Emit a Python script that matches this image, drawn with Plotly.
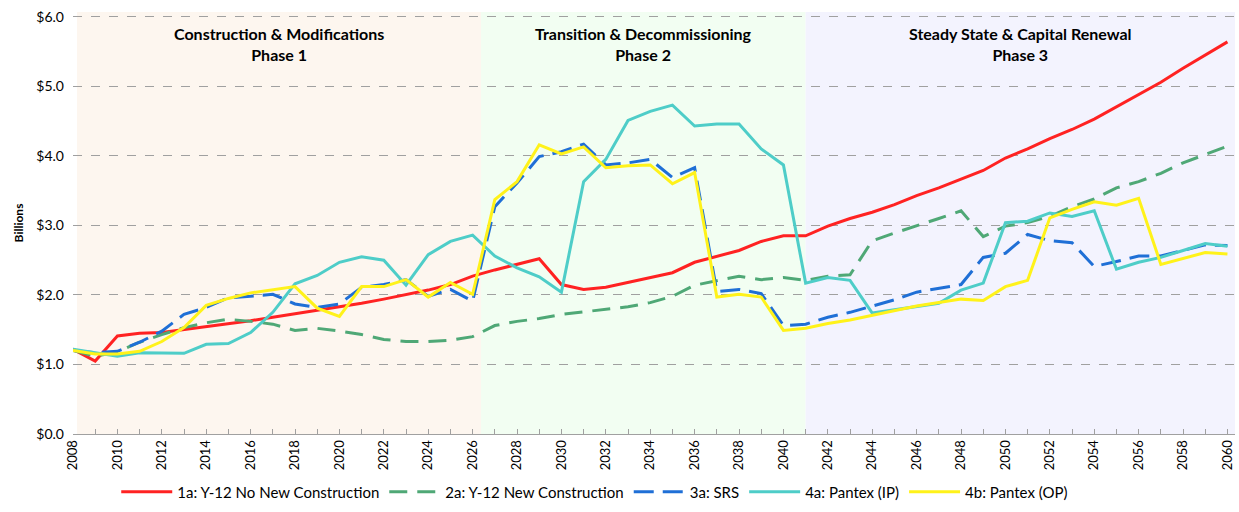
import plotly.graph_objects as go

years = list(range(2008, 2061))

y12_no_new = [1.22, 1.05, 1.41, 1.45, 1.46, 1.50, 1.55, 1.59, 1.63, 1.68, 1.73, 1.78, 1.82, 1.88, 1.94, 2.00,
              2.07, 2.15, 2.27, 2.36, 2.44, 2.52, 2.15, 2.08, 2.11, 2.18, 2.25, 2.32, 2.47, 2.56, 2.64, 2.77,
              2.85, 2.85, 2.99, 3.10, 3.19, 3.30, 3.43, 3.54, 3.66, 3.79, 3.97, 4.10, 4.25, 4.38, 4.53, 4.71,
              4.89, 5.06, 5.26, 5.45, 5.64]
y12_new = [1.20, 1.12, 1.18, 1.32, 1.43, 1.53, 1.60, 1.65, 1.62, 1.58, 1.49, 1.52, 1.48, 1.43, 1.36, 1.33,
           1.33, 1.35, 1.40, 1.56, 1.62, 1.66, 1.72, 1.76, 1.80, 1.83, 1.89, 1.98, 2.14, 2.20, 2.27, 2.22,
           2.25, 2.21, 2.27, 2.29, 2.78, 2.89, 2.99, 3.10, 3.21, 2.84, 2.99, 3.04, 3.13, 3.27, 3.38, 3.54,
           3.63, 3.75, 3.90, 4.02, 4.14]
srs = [1.20, 1.17, 1.19, 1.32, 1.48, 1.72, 1.82, 1.96, 1.98, 2.01, 1.87, 1.82, 1.87, 2.11, 2.15, 2.22,
       1.98, 2.08, 1.91, 3.27, 3.61, 3.99, 4.06, 4.17, 3.87, 3.90, 3.95, 3.69, 3.83, 2.05, 2.08, 2.02,
       1.56, 1.58, 1.68, 1.75, 1.84, 1.93, 2.04, 2.09, 2.15, 2.54, 2.60, 2.87, 2.78, 2.75, 2.41, 2.48,
       2.56, 2.56, 2.64, 2.72, 2.71]
pantex_ip = [1.22, 1.17, 1.12, 1.17, 1.16, 1.16, 1.29, 1.30, 1.46, 1.75, 2.16, 2.28, 2.47, 2.55, 2.50, 2.14,
             2.58, 2.77, 2.86, 2.56, 2.39, 2.26, 2.04, 3.63, 3.95, 4.51, 4.64, 4.73, 4.43, 4.46, 4.46, 4.10,
             3.87, 2.17, 2.25, 2.21, 1.74, 1.79, 1.84, 1.88, 2.07, 2.17, 3.04, 3.06, 3.18, 3.13, 3.21, 2.37,
             2.47, 2.54, 2.64, 2.74, 2.70]
pantex_op = [1.20, 1.15, 1.15, 1.19, 1.33, 1.53, 1.85, 1.95, 2.03, 2.08, 2.12, 1.81, 1.69, 2.12, 2.12, 2.22,
             1.97, 2.18, 2.01, 3.37, 3.63, 4.16, 4.03, 4.13, 3.83, 3.86, 3.87, 3.60, 3.76, 1.97, 2.01, 1.97,
             1.49, 1.52, 1.59, 1.64, 1.71, 1.78, 1.84, 1.89, 1.94, 1.92, 2.12, 2.21, 3.11, 3.23, 3.34, 3.29,
             3.39, 2.44, 2.52, 2.61, 2.59]

series_names = ["1a: Y-12 No New Construction", "2a: Y-12 New Construction", "3a: SRS",
                "4a: Pantex (IP)", "4b: Pantex (OP)"]
series_values = [y12_no_new, y12_new, srs, pantex_ip, pantex_op]
series_colors = ["#FF2222", "#4FA876", "#1F6FD6", "#4ECDC8", "#FFF21A"]
series_dash = ["solid", "18px,10px", "20px,9px", "solid", "solid"]

phase_titles = ["Construction & Modifications<br>Phase 1",
                "Transition & Decommissioning<br>Phase 2",
                "Steady State & Capital Renewal<br>Phase 3"]
phase_bounds = [(2008.18, 2026.38), (2026.38, 2041.0), (2041.0, 2060.34)]
phase_colors = ["rgb(253,246,239)", "rgb(242,254,242)", "rgb(243,243,254)"]

FONT = "Lato, 'Open Sans', sans-serif"

fig = go.Figure()
for name, vals, col, dash in zip(series_names, series_values, series_colors, series_dash):
    fig.add_trace(go.Scatter(x=years, y=vals, mode="lines", name=name,
                             line=dict(color=col, width=3, dash=dash)))

shapes = []
annotations = []
for (x0, x1), col, title in zip(phase_bounds, phase_colors, phase_titles):
    shapes.append(dict(type="rect", xref="x", yref="paper", x0=x0, x1=x1, y0=0, y1=1,
                       fillcolor=col, line=dict(width=0), layer="below"))
    annotations.append(dict(x=(x0 + x1) / 2, y=0.924, xref="x", yref="paper", text="<b>" + title + "</b>",
                            showarrow=False, font=dict(size=16, color="black", family=FONT),
                            xanchor="center", yanchor="middle"))

annotations.append(dict(x=-0.047, y=0.5, xref="paper", yref="paper", text="<b>Billions</b>",
                        textangle=-90, showarrow=False, font=dict(size=12, family=FONT, color="black"),
                        xanchor="center", yanchor="middle"))

fig.update_layout(
    width=1239, height=512,
    margin=dict(l=73, r=4, t=12, b=77),
    paper_bgcolor="white", plot_bgcolor="white",
    font=dict(family=FONT, color="black", size=12),
    shapes=shapes, annotations=annotations,
    showlegend=True,
    legend=dict(orientation="h", x=0.449, xanchor="center", y=-0.135, yanchor="middle",
                font=dict(size=15, family=FONT), bgcolor="rgba(0,0,0,0)", itemwidth=51,
                tracegroupgap=0),
    xaxis=dict(range=[2008, 2060.34], tickmode="linear", tick0=2008, dtick=2, automargin=False,
               tickangle=-90, ticks="inside", ticklen=5, tickcolor="#A0A0A0",
               showline=True, linecolor="#A0A0A0", linewidth=1, showgrid=False, zeroline=False,
               tickfont=dict(size=13, family=FONT),
               minor=dict(dtick=1, tick0=2008, ticks="inside", ticklen=5, tickcolor="#A0A0A0",
                          showgrid=False)),
    yaxis=dict(range=[0, 6.07], tickmode="linear", tick0=0, dtick=1, tickprefix="$", tickformat=".1f",
               showgrid=True, gridcolor="#A0A0A0", griddash="dash", gridwidth=1, automargin=False,
               zeroline=False, showline=False, ticks="", tickfont=dict(size=14, family=FONT),
               ticklabelstandoff=8),
)

fig.write_html("out.html", config={"displayModeBar": False},
               post_script="document.body.style.margin='0';document.body.style.padding='0';")
